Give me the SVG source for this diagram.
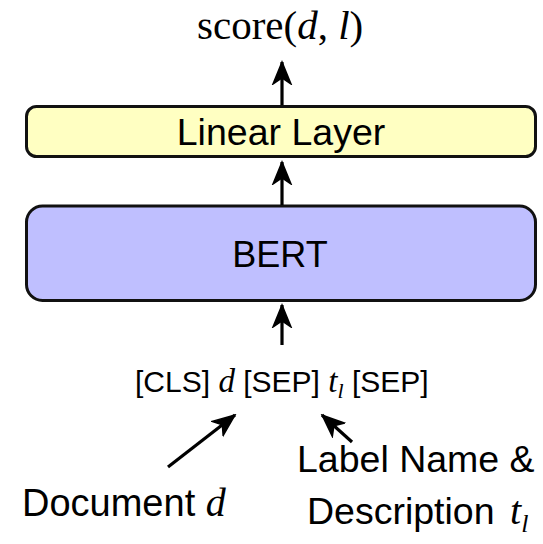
<svg xmlns="http://www.w3.org/2000/svg" width="543" height="544" viewBox="0 0 543 544">
  <style>
    .box { stroke: #111; stroke-width: 3; }
    .sans { font-family: "Liberation Sans", Arial, Helvetica, sans-serif; fill: #000; }
    .serif { font-family: "Liberation Serif", "Times New Roman", serif; fill: #000; }
    .it { font-style: italic; }
    .edge { stroke: #000; stroke-width: 3.2; fill: none; }
  </style>
  <defs>
    <marker id="head" viewBox="-23 -11 25 22" refX="0" refY="0" markerWidth="25" markerHeight="22" markerUnits="userSpaceOnUse" orient="auto">
      <path d="M0,0 L-22,-9 L-16,0 L-22,9 Z" fill="#000" stroke="#000" stroke-width="1.5" stroke-linejoin="miter"/>
    </marker>
  </defs>
  <rect width="543" height="544" fill="#fff"/>

  <g id="score">
    <text class="serif" x="197" y="39" font-size="41">score(<tspan class="it">d</tspan>, <tspan class="it">l</tspan>)</text>
  </g>

  <g id="linear-layer">
    <rect class="box" x="26.5" y="106.5" width="509" height="50" rx="10" fill="#FFFFC2"/>
    <text class="sans" x="281" y="145" font-size="37.5" text-anchor="middle">Linear Layer</text>
  </g>

  <g id="bert">
    <rect class="box" x="26.5" y="206" width="509" height="94.5" rx="16" fill="#BFBFFF"/>
    <text class="sans" x="280" y="267" font-size="36" text-anchor="middle">BERT</text>
  </g>

  <g id="input">
    <text class="sans" x="135" y="392" font-size="30">[CLS] <tspan class="serif it" font-size="33">d</tspan> [SEP] <tspan class="serif it" font-size="33">t</tspan><tspan class="serif it" font-size="22" dy="6">l</tspan><tspan dy="-6"> [SEP]</tspan></text>
  </g>

  <g id="document">
    <text class="sans" x="22" y="516" font-size="38">Document <tspan class="serif it" font-size="40">d</tspan></text>
  </g>

  <g id="label-description">
    <text class="sans" x="297" y="472" font-size="37.5">Label Name &amp;</text>
    <text class="sans" x="307" y="524" font-size="37.5">Description <tspan class="serif it" font-size="40" dx="5">t</tspan><tspan class="serif it" font-size="26" dy="8">l</tspan></text>
  </g>

  <g id="connectors">
    <line class="edge" x1="282" y1="105" x2="282" y2="62" marker-end="url(#head)"/>
    <line class="edge" x1="282" y1="205" x2="282" y2="162" marker-end="url(#head)"/>
    <line class="edge" x1="282" y1="345" x2="282" y2="305" marker-end="url(#head)"/>
    <line class="edge" x1="168" y1="467" x2="235" y2="415" marker-end="url(#head)"/>
    <line class="edge" x1="352" y1="442" x2="322" y2="415" marker-end="url(#head)"/>
  </g>
</svg>
